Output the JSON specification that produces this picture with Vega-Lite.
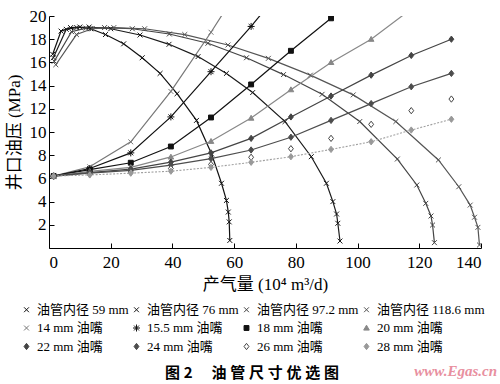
{
 "$schema": "https://vega.github.io/schema/vega-lite/v6.json",
 "width": 432, "height": 232,
 "autosize": "none",
 "padding": {"left": 49, "top": 16, "right": 19, "bottom": 136},
 "background": "white",
 "config": {"view": {"stroke": null}, "font": "Liberation Serif, Noto Sans CJK SC",
  "legend": {"orient": "none", "direction": "horizontal", "legendX": -29, "legendY": 287, "columns": 4, "gridAlign": "each", "columnPadding": 1, "rowPadding": 4.5, "symbolSize": 49, "symbolStrokeWidth": 1, "labelFont": "Liberation Serif, Noto Sans CJK SC", "labelFontSize": 13, "labelColor": "#000", "labelOffset": 4, "labelLimit": 200, "titleOrient": "bottom", "titleAnchor": "middle", "titleFont": "Noto Sans CJK SC", "titleFontSize": 15, "titleFontWeight": "bold", "titleColor": "#000", "titlePadding": 12, "titleLimit": 480, "padding": 0}},
 "title": {"text": "www.Egas.cn", "orient": "bottom", "anchor": "end", "frame": "group", "offset": -17, "dx": 16, "baseline": "top", "fontSize": 15, "fontStyle": "italic", "fontWeight": "bold", "color": "#e8909f", "font": "Liberation Serif"},
 "datasets": {
  "d": [
   {"s":"油管内径 59 mm","x":1.2,"y":16.7},{"s":"油管内径 59 mm","x":3.9,"y":18.7},{"s":"油管内径 59 mm","x":7,"y":19.0},{"s":"油管内径 59 mm","x":10,"y":19.05},{"s":"油管内径 59 mm","x":13.5,"y":18.9},{"s":"油管内径 59 mm","x":18.3,"y":18.4},{"s":"油管内径 59 mm","x":24.2,"y":17.6},{"s":"油管内径 59 mm","x":30.2,"y":16.4},{"s":"油管内径 59 mm","x":36,"y":15.05},{"s":"油管内径 59 mm","x":41.5,"y":13.3},{"s":"油管内径 59 mm","x":47.8,"y":11.0},{"s":"油管内径 59 mm","x":52.7,"y":8.1},{"s":"油管内径 59 mm","x":55.9,"y":5.58},{"s":"油管内径 59 mm","x":57.5,"y":4.1},{"s":"油管内径 59 mm","x":58.1,"y":3.1},{"s":"油管内径 59 mm","x":58.4,"y":2.25},{"s":"油管内径 59 mm","x":58.6,"y":0.65},
   {"s":"油管内径 76 mm","x":1.4,"y":16.4},{"s":"油管内径 76 mm","x":5.6,"y":18.85},{"s":"油管内径 76 mm","x":9,"y":19.0},{"s":"油管内径 76 mm","x":13,"y":19.05},{"s":"油管内径 76 mm","x":20,"y":18.9},{"s":"油管内径 76 mm","x":29.5,"y":18.36},{"s":"油管内径 76 mm","x":38.9,"y":17.56},{"s":"油管内径 76 mm","x":48.3,"y":16.5},{"s":"油管内径 76 mm","x":57.5,"y":15.05},{"s":"油管内径 76 mm","x":66,"y":13.4},{"s":"油管内径 76 mm","x":76.5,"y":10.9},{"s":"油管内径 76 mm","x":85,"y":7.87},{"s":"油管内径 76 mm","x":89.9,"y":5.58},{"s":"油管内径 76 mm","x":92,"y":4.0},{"s":"油管内径 76 mm","x":93.2,"y":2.93},{"s":"油管内径 76 mm","x":93.6,"y":2.13},{"s":"油管内径 76 mm","x":94.3,"y":0.6},
   {"s":"油管内径 97.2 mm","x":1.7,"y":16.1},{"s":"油管内径 97.2 mm","x":7.3,"y":18.65},{"s":"油管内径 97.2 mm","x":12,"y":18.95},{"s":"油管内径 97.2 mm","x":18,"y":19.0},{"s":"油管内径 97.2 mm","x":27,"y":18.9},{"s":"油管内径 97.2 mm","x":39,"y":18.45},{"s":"油管内径 97.2 mm","x":51.5,"y":17.65},{"s":"油管内径 97.2 mm","x":64,"y":16.4},{"s":"油管内径 97.2 mm","x":76,"y":14.95},{"s":"油管内径 97.2 mm","x":88.5,"y":13.25},{"s":"油管内径 97.2 mm","x":100.7,"y":10.9},{"s":"油管内径 97.2 mm","x":112.9,"y":7.67},{"s":"油管内径 97.2 mm","x":119.2,"y":5.43},{"s":"油管内径 97.2 mm","x":122.1,"y":3.85},{"s":"油管内径 97.2 mm","x":123.8,"y":2.76},{"s":"油管内径 97.2 mm","x":124.3,"y":1.98},{"s":"油管内径 97.2 mm","x":124.9,"y":0.46},
   {"s":"油管内径 118.6 mm","x":2.2,"y":15.8},{"s":"油管内径 118.6 mm","x":8.9,"y":18.4},{"s":"油管内径 118.6 mm","x":14,"y":18.9},{"s":"油管内径 118.6 mm","x":21,"y":19.0},{"s":"油管内径 118.6 mm","x":31,"y":18.9},{"s":"油管内径 118.6 mm","x":44,"y":18.4},{"s":"油管内径 118.6 mm","x":58,"y":17.5},{"s":"油管内径 118.6 mm","x":71.1,"y":16.35},{"s":"油管内径 118.6 mm","x":84.7,"y":14.9},{"s":"油管内径 118.6 mm","x":98.6,"y":13.2},{"s":"油管内径 118.6 mm","x":112.4,"y":10.9},{"s":"油管内径 118.6 mm","x":126.2,"y":7.59},{"s":"油管内径 118.6 mm","x":132.8,"y":5.28},{"s":"油管内径 118.6 mm","x":136.5,"y":3.7},{"s":"油管内径 118.6 mm","x":137.9,"y":2.65},{"s":"油管内径 118.6 mm","x":139,"y":1.78},{"s":"油管内径 118.6 mm","x":139.5,"y":0.26},
   {"s":"14 mm 油嘴","x":1.5,"y":6.2},{"s":"14 mm 油嘴","x":13.2,"y":7.0},{"s":"14 mm 油嘴","x":26.5,"y":9.15},{"s":"14 mm 油嘴","x":39.5,"y":13.5},{"s":"14 mm 油嘴","x":52.5,"y":18.6},{"s":"14 mm 油嘴","x":65.5,"y":24.0},
   {"s":"15.5 mm 油嘴","x":1.5,"y":6.2},{"s":"15.5 mm 油嘴","x":13.2,"y":6.85},{"s":"15.5 mm 油嘴","x":26.5,"y":8.2},{"s":"15.5 mm 油嘴","x":39.5,"y":11.3},{"s":"15.5 mm 油嘴","x":52.5,"y":15.2},{"s":"15.5 mm 油嘴","x":65.5,"y":19.1},{"s":"15.5 mm 油嘴","x":78.4,"y":23.3},
   {"s":"18 mm 油嘴","x":1.5,"y":6.2},{"s":"18 mm 油嘴","x":13.2,"y":6.75},{"s":"18 mm 油嘴","x":26.5,"y":7.35},{"s":"18 mm 油嘴","x":39.5,"y":8.75},{"s":"18 mm 油嘴","x":52.5,"y":11.25},{"s":"18 mm 油嘴","x":65.5,"y":14.1},{"s":"18 mm 油嘴","x":78.4,"y":17.0},{"s":"18 mm 油嘴","x":91.4,"y":19.8},
   {"s":"20 mm 油嘴","x":1.5,"y":6.2},{"s":"20 mm 油嘴","x":13.2,"y":6.6},{"s":"20 mm 油嘴","x":26.5,"y":6.95},{"s":"20 mm 油嘴","x":39.5,"y":7.85},{"s":"20 mm 油嘴","x":52.5,"y":9.2},{"s":"20 mm 油嘴","x":65.5,"y":11.2},{"s":"20 mm 油嘴","x":78.4,"y":13.65},{"s":"20 mm 油嘴","x":91.4,"y":16.0},{"s":"20 mm 油嘴","x":104.4,"y":18.0},{"s":"20 mm 油嘴","x":117.4,"y":20.6},
   {"s":"22 mm 油嘴","x":1.5,"y":6.2},{"s":"22 mm 油嘴","x":13.2,"y":6.5},{"s":"22 mm 油嘴","x":26.5,"y":6.8},{"s":"22 mm 油嘴","x":39.5,"y":7.4},{"s":"22 mm 油嘴","x":52.5,"y":8.2},{"s":"22 mm 油嘴","x":65.5,"y":9.45},{"s":"22 mm 油嘴","x":78.4,"y":11.3},{"s":"22 mm 油嘴","x":91.4,"y":13.1},{"s":"22 mm 油嘴","x":104.4,"y":14.9},{"s":"22 mm 油嘴","x":117.4,"y":16.6},{"s":"22 mm 油嘴","x":130.4,"y":18.0},
   {"s":"24 mm 油嘴","x":1.5,"y":6.2},{"s":"24 mm 油嘴","x":13.2,"y":6.45},{"s":"24 mm 油嘴","x":26.5,"y":6.7},{"s":"24 mm 油嘴","x":39.5,"y":7.15},{"s":"24 mm 油嘴","x":52.5,"y":7.7},{"s":"24 mm 油嘴","x":65.5,"y":8.45},{"s":"24 mm 油嘴","x":78.4,"y":9.55},{"s":"24 mm 油嘴","x":91.4,"y":11.0},{"s":"24 mm 油嘴","x":104.4,"y":12.45},{"s":"24 mm 油嘴","x":117.4,"y":13.9},{"s":"24 mm 油嘴","x":130.4,"y":15.05},
   {"s":"26 mm 油嘴","x":1.5,"y":6.2},{"s":"26 mm 油嘴","x":13.2,"y":6.35},{"s":"26 mm 油嘴","x":26.5,"y":6.55},{"s":"26 mm 油嘴","x":39.5,"y":6.85},{"s":"26 mm 油嘴","x":52.5,"y":7.2},{"s":"26 mm 油嘴","x":65.5,"y":7.82},{"s":"26 mm 油嘴","x":78.4,"y":8.56},{"s":"26 mm 油嘴","x":91.4,"y":9.45},{"s":"26 mm 油嘴","x":104.4,"y":10.66},{"s":"26 mm 油嘴","x":117.4,"y":11.84},{"s":"26 mm 油嘴","x":130.4,"y":12.84},
   {"s":"28 mm 油嘴","x":1.5,"y":6.2},{"s":"28 mm 油嘴","x":13.2,"y":6.3},{"s":"28 mm 油嘴","x":26.5,"y":6.45},{"s":"28 mm 油嘴","x":39.5,"y":6.62},{"s":"28 mm 油嘴","x":52.5,"y":6.95},{"s":"28 mm 油嘴","x":65.5,"y":7.39},{"s":"28 mm 油嘴","x":78.4,"y":7.87},{"s":"28 mm 油嘴","x":91.4,"y":8.5},{"s":"28 mm 油嘴","x":104.4,"y":9.16},{"s":"28 mm 油嘴","x":117.4,"y":10.17},{"s":"28 mm 油嘴","x":130.4,"y":11.1}
  ]
 },
 "data": {"name": "d"},
 "encoding": {
  "x": {"field": "x", "type": "quantitative", "scale": {"domain": [0, 140], "nice": false},
   "axis": {"values": [0,20,40,60,80,100,120,140], "title": "产气量 (10⁴ m³/d)", "grid": false, "tickSize": -5, "labelPadding": 11, "labelFontSize": 17, "labelColor": "#000", "labelFont": "Liberation Serif", "domainColor": "#000", "tickColor": "#000", "titleFontSize": 17, "titleFontWeight": "normal", "titleColor": "#000", "titlePadding": 6, "titleFont": "Liberation Serif, Noto Sans CJK SC"}},
  "y": {"field": "y", "type": "quantitative", "scale": {"domain": [0, 20], "nice": false},
   "axis": {"values": [2,4,6,8,10,12,14,16,18,20], "title": "井口油压 (MPa)", "grid": false, "tickSize": -5, "labelPadding": 8, "labelFontSize": 17, "labelColor": "#000", "labelFont": "Liberation Serif", "domainColor": "#000", "tickColor": "#000", "titleFontSize": 17, "titleFontWeight": "normal", "titleColor": "#000", "titlePadding": 6, "titleFont": "Liberation Serif, Noto Sans CJK SC"}}
 },
 "layer": [
  {
   "transform": [{"filter": "datum.s !== '26 mm 油嘴' && datum.s !== '28 mm 油嘴'"}],
   "mark": {"type": "line", "clip": true, "strokeWidth": 1.2},
   "encoding": {
    "stroke": {"field": "s", "type": "nominal", "title": "图\u20052\u3000\u2005油\u2005管\u2005尺\u2005寸\u2005优\u2005选\u2005图",
     "scale": {"domain": ["油管内径 59 mm","油管内径 76 mm","油管内径 97.2 mm","油管内径 118.6 mm","14 mm 油嘴","15.5 mm 油嘴","18 mm 油嘴","20 mm 油嘴","22 mm 油嘴","24 mm 油嘴","26 mm 油嘴","28 mm 油嘴"],
      "range": ["#111111","#1a1a1a","#444444","#555555","#777777","#111111","#111111","#888888","#444444","#4d4d4d","#444444","#999999"]}}
   }
  },
  {
   "transform": [{"filter": "datum.s === '28 mm 油嘴'"}],
   "mark": {"type": "line", "clip": true, "strokeWidth": 1.1, "stroke": "#a0a0a0", "strokeDash": [2, 1.5]},
   "encoding": {}
  },
  {
   "mark": {"type": "point", "clip": true, "filled": true, "strokeWidth": 1, "size": 49, "opacity": 1},
   "encoding": {
    "stroke": {"field": "s", "type": "nominal", "title": "图\u20052\u3000\u2005油\u2005管\u2005尺\u2005寸\u2005优\u2005选\u2005图"},
    "fill": {"field": "s", "type": "nominal", "title": "图\u20052\u3000\u2005油\u2005管\u2005尺\u2005寸\u2005优\u2005选\u2005图",
     "scale": {"domain": ["油管内径 59 mm","油管内径 76 mm","油管内径 97.2 mm","油管内径 118.6 mm","14 mm 油嘴","15.5 mm 油嘴","18 mm 油嘴","20 mm 油嘴","22 mm 油嘴","24 mm 油嘴","26 mm 油嘴","28 mm 油嘴"],
      "range": ["#111111","#1a1a1a","#444444","#555555","#777777","#111111","#111111","#888888","#444444","#4d4d4d","#ffffff","#999999"]}},
    "shape": {"field": "s", "type": "nominal", "title": "图\u20052\u3000\u2005油\u2005管\u2005尺\u2005寸\u2005优\u2005选\u2005图",
     "scale": {"domain": ["油管内径 59 mm","油管内径 76 mm","油管内径 97.2 mm","油管内径 118.6 mm","14 mm 油嘴","15.5 mm 油嘴","18 mm 油嘴","20 mm 油嘴","22 mm 油嘴","24 mm 油嘴","26 mm 油嘴","28 mm 油嘴"],
      "range": ["M-0.7,-0.7L0.7,0.7M-0.7,0.7L0.7,-0.7","M-0.7,-0.7L0.7,0.7M-0.7,0.7L0.7,-0.7","M-0.7,-0.7L0.7,0.7M-0.7,0.7L0.7,-0.7","M-0.7,-0.7L0.7,0.7M-0.7,0.7L0.7,-0.7","M-0.7,-0.7L0.7,0.7M-0.7,0.7L0.7,-0.7","M-0.7,-0.7L0.7,0.7M-0.7,0.7L0.7,-0.7M0,-1L0,1M-1,0L1,0","M-0.7,-0.7L0.7,-0.7L0.7,0.7L-0.7,0.7Z","M0,-0.8L0.8,0.6L-0.8,0.6Z","M0,-0.9L0.7,0L0,0.9L-0.7,0Z","M0,-0.9L0.7,0L0,0.9L-0.7,0Z","M0,-0.9L0.7,0L0,0.9L-0.7,0Z","M0,-0.9L0.7,0L0,0.9L-0.7,0Z"]}}
   }
  }
 ]
}
